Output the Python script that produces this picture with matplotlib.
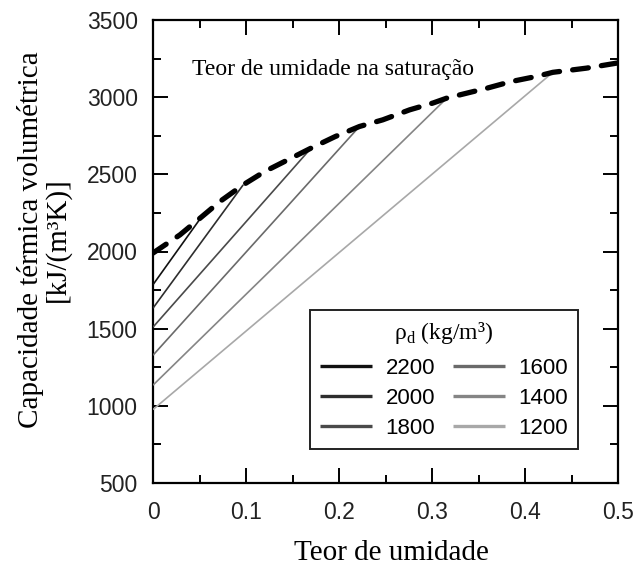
import matplotlib
matplotlib.use("Agg")
import matplotlib.pyplot as plt
from matplotlib.ticker import MultipleLocator, FixedLocator, FixedFormatter

# ---------------- data ----------------
densities = ["2200", "2000", "1800", "1600", "1400", "1200"]
line_x_start = [0.0, 0.0, 0.0, 0.0, 0.0, 0.0]
line_y_start = [1785, 1633, 1510, 1328, 1134, 976]
line_x_end = [0.052, 0.097, 0.170, 0.222, 0.316, 0.430]
line_y_end = [2223, 2432, 2670, 2810, 2994, 3161]
line_colors = ["#111111", "#2e2e2e", "#4a4a4a", "#6a6a6a", "#858585", "#a8a8a8"]

sat_x = [0.0, 0.029, 0.052, 0.072, 0.097, 0.120, 0.145, 0.170, 0.196, 0.222,
         0.247, 0.276, 0.301, 0.316, 0.330, 0.359, 0.385, 0.412, 0.430, 0.466, 0.5]
sat_y = [1990, 2108, 2223, 2324, 2432, 2518, 2594, 2670, 2745, 2810,
         2853, 2918, 2962, 2994, 3015, 3058, 3101, 3134, 3161, 3188, 3222]

xticks = [0, 0.1, 0.2, 0.3, 0.4, 0.5]
xticklabels = ["0", "0.1", "0.2", "0.3", "0.4", "0.5"]
yticks = [500, 1000, 1500, 2000, 2500, 3000, 3500]
yticklabels = ["500", "1000", "1500", "2000", "2500", "3000", "3500"]

# ---------------- figure ----------------
W, H = 638, 566
fig = plt.figure(figsize=(W / 100, H / 100), dpi=100)
ax = fig.add_axes([153 / W, 1 - 483 / H, (618 - 153) / W, (483 - 20) / H])

sans = "Liberation Sans"
serif = "Liberation Serif"

handles = []
for i, lab in enumerate(densities):
    h, = ax.plot([line_x_start[i], line_x_end[i]], [line_y_start[i], line_y_end[i]],
                 color=line_colors[i], lw=1.2, solid_capstyle="butt", label=lab, zorder=3)
    handles.append(h)

ax.plot(sat_x, sat_y, color="black", lw=3.8, dashes=(3.0, 2.5), zorder=4,
        solid_capstyle="round", dash_capstyle="round")

ax.set_xlim(0, 0.5)
ax.set_ylim(500, 3500)

ax.xaxis.set_major_locator(FixedLocator(xticks))
ax.xaxis.set_major_formatter(FixedFormatter(xticklabels))
ax.xaxis.set_minor_locator(MultipleLocator(0.05))
ax.yaxis.set_major_locator(FixedLocator(yticks))
ax.yaxis.set_major_formatter(FixedFormatter(yticklabels))
ax.yaxis.set_minor_locator(MultipleLocator(250))

ax.tick_params(which="both", direction="in", top=True, right=True, width=1.4, colors="black")
ax.tick_params(which="major", length=11, labelsize=16.5)
ax.tick_params(axis="x", which="major", pad=13)
ax.tick_params(axis="y", which="major", pad=11)
ax.tick_params(which="minor", length=6)
for lbl in ax.get_xticklabels() + ax.get_yticklabels():
    lbl.set_fontfamily(sans)
    lbl.set_color("#222222")
for sp in ax.spines.values():
    sp.set_linewidth(1.6)

# annotation
ax.text(0.0416, 3144, "Teor de umidade na saturação", family=serif, fontsize=17,
        va="baseline", ha="left", zorder=5,
        bbox=dict(facecolor="white", edgecolor="none", pad=2))

# legend
leg = ax.legend(handles, densities,
                ncol=2, loc="lower right", bbox_to_anchor=(0.914, 0.0734),
                title="ρ$_\\mathregular{d}$ (kg/m³)",
                prop={"family": sans, "size": 16},
                title_fontproperties={"family": serif, "size": 17},
                frameon=True, fancybox=False, framealpha=1, edgecolor="#222222",
                handlelength=2.35, handletextpad=0.6, columnspacing=0.8,
                labelspacing=0.4, borderpad=0.45, borderaxespad=0)
leg.get_frame().set_linewidth(1.4)
leg._legend_box.sep = 9
for lh in leg.get_lines():
    lh.set_linewidth(2.4)

# axis labels
fig.text(43.5 / W, 1 - 240 / H, "Capacidade térmica volumétrica\n[kJ/(m³K)]",
         rotation=90, ha="center", va="center", multialignment="center",
         family=serif, fontsize=21, linespacing=1.0)
fig.text(391 / W, 1 - 560 / H, "Teor de umidade", ha="center", va="baseline",
         family=serif, fontsize=21)

fig.savefig("out.png", dpi=100)
